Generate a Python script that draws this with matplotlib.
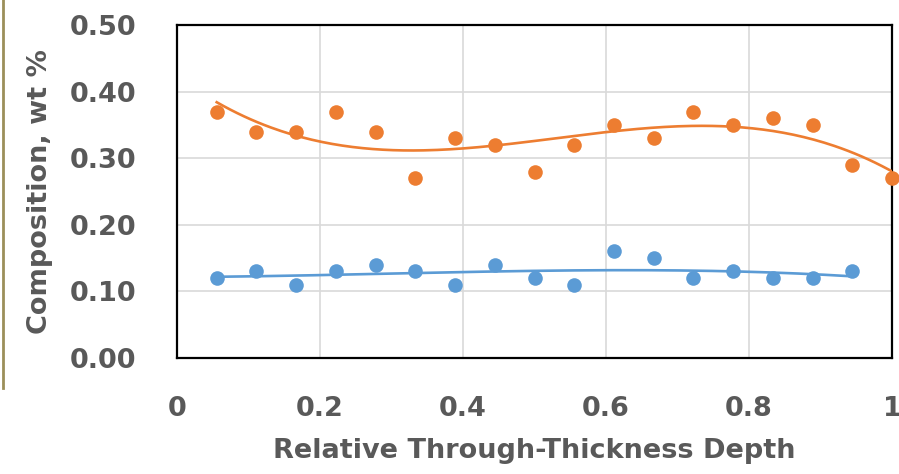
import numpy as np
import matplotlib
matplotlib.use("Agg")
import matplotlib.pyplot as plt
from matplotlib.lines import Line2D

# relative depth positions (i/18)
depth = [i / 18 for i in range(1, 19)]

orange_vals = [0.37, 0.34, 0.34, 0.37, 0.34, 0.27, 0.33, 0.32, 0.28,
               0.32, 0.35, 0.33, 0.37, 0.35, 0.36, 0.35, 0.29, 0.27]
blue_vals = [0.12, 0.13, 0.11, 0.13, 0.14, 0.13, 0.11, 0.14, 0.12,
             0.11, 0.16, 0.15, 0.12, 0.13, 0.12, 0.12, 0.13]

xticks = [0, 0.2, 0.4, 0.6, 0.8, 1]
xtick_labels = ["0", "0.2", "0.4", "0.6", "0.8", "1"]
yticks = [0, 0.1, 0.2, 0.3, 0.4, 0.5]

orange = "#ED7D31"
blue = "#5B9BD5"
text_col = "#595959"

plt.rcParams['font.family'] = 'DejaVu Sans'
plt.rcParams['font.weight'] = 'bold'

fig = plt.figure(figsize=(8.99, 4.74), dpi=100)
ax = fig.add_axes([177 / 899, 1 - 358 / 474, 715 / 899, 333 / 474])

x_o = np.array(depth)
y_o = np.array(orange_vals)
x_b = np.array(depth[:len(blue_vals)])
y_b = np.array(blue_vals)

# polynomial trendlines
for xs, ys, c in [(x_o, y_o, orange), (x_b, y_b, blue)]:
    coef = np.polyfit(xs, ys, 3)
    xf = np.linspace(xs.min(), xs.max(), 200)
    ax.plot(xf, np.polyval(coef, xf), color=c, lw=1.9, zorder=4)
    ax.plot(xs, ys, 'o', color=c, ms=10.5, mec='none', zorder=3, clip_on=False)

ax.set_xlim(0, 1)
ax.set_ylim(0, 0.5)
ax.set_xticks(xticks)
ax.set_xticklabels(xtick_labels)
ax.set_yticks(yticks)
ax.set_yticklabels([f"{v:.2f}" for v in yticks])
ax.grid(True, color="#D9D9D9", lw=1.2)
ax.set_axisbelow(True)
ax.tick_params(length=0, labelsize=19.5, labelcolor=text_col)
ax.tick_params(axis='y', pad=29)
ax.tick_params(axis='x', pad=27)
for s in ax.spines.values():
    s.set_color("black")
    s.set_linewidth(1.6)

ax.set_xlabel("Relative Through-Thickness Depth", fontsize=19.5, color=text_col,
              fontweight='bold', labelpad=12)
ax.set_ylabel("Composition, wt %", fontsize=19.5, color=text_col,
              fontweight='bold', labelpad=12)

# thin border line at the left edge of the picture
fig.add_artist(Line2D([0.003, 0.003], [1, 1 - 388 / 474], color="#9C8F5A", lw=2))

fig.savefig("out.png", dpi=100)
